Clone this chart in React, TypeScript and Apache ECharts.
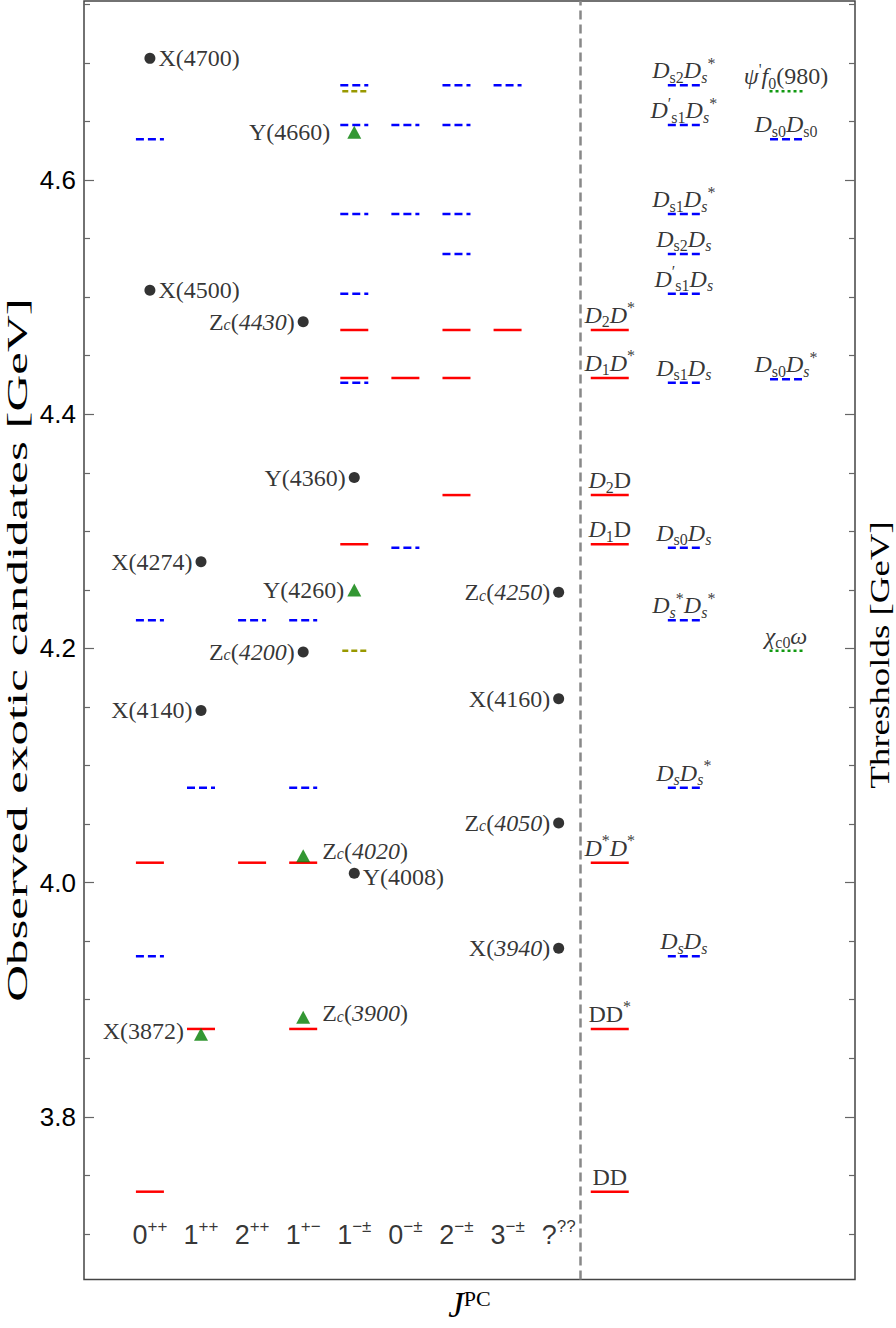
import React, { useEffect, useRef } from "react";
import * as echarts from "echarts";

const SERIF = '"Liberation Serif", "Times New Roman", serif';
const SANS = '"Liberation Sans", Arial, sans-serif';

// J^PC categories
const jpcBase = ["0", "1", "2", "1", "1", "0", "2", "3", "?"];
const jpcSup = ["++", "++", "++", "+−", "−±", "−±", "−±", "−±", "??"];

// Thresholds [GeV]
const thrLabels = [
  "{r|DD}",
  "{r|DD}{sup|*}",
  "{i|D}{sup|*}{i|D}{sup|*}",
  "{i|D}{sub|1}{r|D}",
  "{i|D}{sub|2}{r|D}",
  "{i|D}{sub|1}{i|D}{sup|*}",
  "{i|D}{sub|2}{i|D}{sup|*}",
  "{i|D}{isub|s}{i|D}{isub|s}",
  "{i|D}{isub|s}{i|D}{isub|s}{sup|*}",
  "{i|D}{isub|s}{sup|*}{i|D}{isub|s}{sup|*}",
  "{i|D}{sub|s0}{i|D}{isub|s}",
  "{i|D}{sub|s1}{i|D}{isub|s}",
  "{i|D}{sup|′}{sub|s1}{i|D}{isub|s}",
  "{i|D}{sub|s2}{i|D}{isub|s}",
  "{i|D}{sub|s1}{i|D}{isub|s}{sup|*}",
  "{i|D}{sup|′}{sub|s1}{i|D}{isub|s}{sup|*}",
  "{i|D}{sub|s2}{i|D}{isub|s}{sup|*}",
  "{i|D}{sub|s0}{i|D}{sub|s0}",
  "{i|D}{sub|s0}{i|D}{isub|s}{sup|*}",
  "{i|ψ}{sup|'}{i|f}{sub|0}{r|(980)}",
  "{i|χ}{sub|c0}{i|ω}",
];
const thrMass = [
  3.736, 3.875, 4.017, 4.289, 4.331, 4.431, 4.472,
  3.937, 4.081, 4.224, 4.286, 4.427, 4.503, 4.537, 4.571, 4.647, 4.681,
  4.635, 4.43, 4.676, 4.198,
];
// D = open-charm (red), Ds = charm-strange (blue), X = charmonium+light (green/olive)
const thrKind = [
  "D", "D", "D", "D", "D", "D", "D",
  "Ds", "Ds", "Ds", "Ds", "Ds", "Ds", "Ds", "Ds", "Ds", "Ds",
  "Ds", "Ds", "X", "X",
];
const thrColumn = [0, 0, 0, 0, 0, 0, 0, 1, 1, 1, 1, 1, 1, 1, 1, 1, 1, 2, 2, 2, 2];
const thrJpc = [
  [0], [1, 3], [0, 2, 3], [4], [6], [4, 5, 6], [4, 6, 7],
  [0], [1, 3], [0, 2, 3], [5], [4], [4], [6], [4, 5, 6], [4, 5, 6], [4, 6, 7],
  [0], [], [4], [4],
];
// x positions of the three threshold columns (in J^PC slot units)
const thresholdColumnX = [9.0, 10.45, 12.45];
const separatorX = 8.42;
const categoryLabelY = 3.699;

// Observed states: circles
const circleLabels = [
  "{p|X(4700)}",
  "{p|X(4500)}",
  "{p|Z}{ps|c}{p|(}{pi|4430}{p|)}",
  "{p|Y(4360)}",
  "{p|X(4274)}",
  "{p|Z}{ps|c}{p|(}{pi|4200}{p|)}",
  "{p|X(4140)}",
  "{p|Y(4008)}",
  "{p|Z}{ps|c}{p|(}{pi|4250}{p|)}",
  "{p|X(4160)}",
  "{p|Z}{ps|c}{p|(}{pi|4050}{p|)}",
  "{p|X(}{pi|3940}{p|)}",
];
const circleJpc = [0, 0, 3, 4, 1, 3, 1, 4, 8, 8, 8, 8];
const circleMass = [4.704, 4.506, 4.479, 4.346, 4.274, 4.197, 4.147, 4.008, 4.248, 4.157, 4.051, 3.944];
const circleSide = ["right", "right", "left", "left", "left", "left", "left", "right", "left", "left", "left", "left"];
const circleLabelShift = [0, 0, 0, 0, 0, 0, 0, 4, 0, 0, 0, 0];

// Observed states: triangles
const triLabels = [
  "{p|Y(4660)}",
  "{p|Y(4260)}",
  "{p|Z}{ps|c}{p|(}{pi|4020}{p|)}",
  "{p|Z}{ps|c}{p|(}{pi|3900}{p|)}",
  "{p|X(3872)}",
];
const triJpc = [4, 4, 3, 3, 1];
const triMass = [4.641, 4.25, 4.023, 3.885, 3.8705];
const triSide = ["left", "left", "right", "right", "left"];
const triDistance = [17, 3, 12, 12, 10];
const triLabelLift = [0, 0, -5, -4, -3];

const majorTicks = [3.8, 4.0, 4.2, 4.4, 4.6];
const minorTicks = [3.7, 3.75, 3.85, 3.9, 3.95, 4.05, 4.1, 4.15, 4.25, 4.3, 4.35, 4.45, 4.5, 4.55, 4.65, 4.7, 4.75];

const Y_MIN = 3.661;
const Y_MAX = 4.753;

const segRender = (halfPx: number, color: string, width: number, dash: number[] | null) =>
  (params: any, api: any) => {
    const c = api.coord([api.value(0), api.value(1)]);
    return {
      type: "line",
      silent: true,
      shape: { x1: c[0] - halfPx, y1: c[1], x2: c[0] + halfPx, y2: c[1] },
      style: { stroke: color, lineWidth: width, lineDash: dash || undefined, fill: null },
    };
  };

export default function App() {
  const ref = useRef<HTMLDivElement>(null);
  useEffect(() => {
    if (!ref.current) return;
    const chart = echarts.init(ref.current, null, { renderer: "svg" });

    const colSeg: Record<string, number[][]> = { D: [], Ds: [], X: [] };
    const thrSeg: Record<string, number[][]> = { D: [], Ds: [], X: [] };
    thrMass.forEach((m, k) => {
      thrJpc[k].forEach((j) => colSeg[thrKind[k]].push([j, m]));
      thrSeg[thrKind[k]].push([thresholdColumnX[thrColumn[k]], m]);
    });

    const thrRich = {
      r: { fontFamily: SERIF, fontSize: 24, lineHeight: 30, color: "#000" },
      i: { fontFamily: SERIF, fontSize: 24, fontStyle: "italic", lineHeight: 30, color: "#000" },
      sub: { fontFamily: SERIF, fontSize: 16, lineHeight: 16, verticalAlign: "bottom", color: "#000" },
      isub: { fontFamily: SERIF, fontSize: 16, fontStyle: "italic", lineHeight: 16, verticalAlign: "bottom", color: "#000" },
      sup: { fontFamily: SERIF, fontSize: 16, lineHeight: 16, verticalAlign: "top", color: "#000" },
    };
    const pRich = {
      p: { fontFamily: SERIF, fontSize: 24, lineHeight: 22, color: "#000" },
      pi: { fontFamily: SERIF, fontSize: 24, fontStyle: "italic", lineHeight: 22, color: "#000" },
      ps: { fontFamily: SERIF, fontSize: 16, fontStyle: "italic", lineHeight: 12, verticalAlign: "bottom", color: "#000" },
    };
    const catRich = {
      b: { fontFamily: SANS, fontSize: 27, lineHeight: 34, color: "#000" },
      s: { fontFamily: SANS, fontSize: 17, lineHeight: 16, verticalAlign: "top", color: "#000" },
    };

    const yBase = {
      type: "value",
      min: Y_MIN,
      max: Y_MAX,
      splitLine: { show: false },
      axisLine: { show: false },
      axisLabel: { show: false },
    };
    const tickAxis = (position: string, values: number[], length: number) => ({
      ...yBase,
      position,
      axisTick: { show: true, inside: true, length, customValues: values, lineStyle: { color: "#666", width: 1.2 } },
    });

    chart.setOption({
      animation: false,
      backgroundColor: "#fff",
      grid: { left: 84, right: 41, top: 1, bottom: 42, show: true, borderColor: "#444", borderWidth: 1.5, backgroundColor: "transparent" },
      xAxis: {
        type: "value",
        min: -1.29,
        max: 13.8,
        axisLine: { show: false },
        axisTick: { show: false },
        axisLabel: { show: false },
        splitLine: { show: false },
        name: "{j|J}{s|PC}",
        nameLocation: "middle",
        nameGap: 8,
        nameTextStyle: {
          rich: {
            j: { fontFamily: SERIF, fontSize: 35, fontStyle: "italic", lineHeight: 36, color: "#000" },
            s: { fontFamily: SERIF, fontSize: 22, lineHeight: 22, verticalAlign: "top", color: "#000" },
          },
        },
      },
      yAxis: [
        {
          ...yBase,
          position: "left",
          axisTick: { show: false },
          axisLabel: {
            show: true, customValues: majorTicks, margin: 8, fontSize: 26, fontFamily: SANS, color: "#000",
            formatter: (v: number) => v.toFixed(1),
          },
        },
        tickAxis("left", majorTicks, 10),
        tickAxis("left", minorTicks, 6),
        tickAxis("right", majorTicks, 10),
        tickAxis("right", minorTicks, 6),
      ],
      graphic: [
        {
          type: "text",
          x: 17,
          y: 650,
          rotation: Math.PI / 2,
          scaleX: 1.7,
          style: {
            text: "Observed exotic candidates [GeV]",
            font: `30px ${SERIF}`,
            fill: "#000",
            textAlign: "center",
            textVerticalAlign: "middle",
            align: "center",
            verticalAlign: "middle",
          },
        },
        {
          type: "text",
          x: 880,
          y: 655,
          rotation: Math.PI / 2,
          scaleX: 1.32,
          style: {
            text: "Thresholds [GeV]",
            font: `28px ${SERIF}`,
            fill: "#000",
            textAlign: "center",
            textVerticalAlign: "middle",
            align: "center",
            verticalAlign: "middle",
          },
        },
      ],
      series: [
        { type: "custom", name: "colDs", coordinateSystem: "cartesian2d", z: 2, data: colSeg.Ds, encode: { x: 0, y: 1 }, renderItem: segRender(14, "#0000ff", 2.5, [8, 4]) },
        { type: "custom", name: "colX", coordinateSystem: "cartesian2d", z: 2, data: colSeg.X, encode: { x: 0, y: 1 }, renderItem: segRender(12, "#999900", 2.5, [6, 3]) },
        { type: "custom", name: "colD", coordinateSystem: "cartesian2d", z: 3, data: colSeg.D, encode: { x: 0, y: 1 }, renderItem: segRender(14, "#ff0000", 2.5, null) },
        { type: "custom", name: "thrD", coordinateSystem: "cartesian2d", z: 3, data: thrSeg.D, encode: { x: 0, y: 1 }, renderItem: segRender(19, "#ff0000", 2.5, null) },
        { type: "custom", name: "thrDs", coordinateSystem: "cartesian2d", z: 3, data: thrSeg.Ds, encode: { x: 0, y: 1 }, renderItem: segRender(16, "#0000ff", 2.5, [8, 4]) },
        { type: "custom", name: "thrX", coordinateSystem: "cartesian2d", z: 3, data: thrSeg.X, encode: { x: 0, y: 1 }, renderItem: segRender(16.5, "#119911", 2.5, [3, 3]) },
        {
          type: "scatter",
          name: "thrLabels",
          z: 4,
          symbol: "circle",
          symbolSize: 0.1,
          itemStyle: { color: "rgba(0,0,0,0)" },
          silent: true,
          data: thrMass.map((m, k) => [thresholdColumnX[thrColumn[k]], m]),
          label: { show: true, position: "top", distance: 0, formatter: (p: any) => thrLabels[p.dataIndex], rich: thrRich },
          markLine: {
            silent: true,
            symbol: ["none", "none"],
            label: { show: false },
            lineStyle: { color: "#888", width: 2.5, type: [9, 5] },
            data: [{ xAxis: separatorX }],
          },
        },
        {
          type: "scatter",
          name: "categories",
          z: 4,
          symbolSize: 0.1,
          itemStyle: { color: "rgba(0,0,0,0)" },
          silent: true,
          data: jpcBase.map((_, i) => [i, categoryLabelY]),
          label: {
            show: true,
            position: "inside",
            formatter: (p: any) => `{b|${jpcBase[p.dataIndex]}}{s|${jpcSup[p.dataIndex]}}`,
            rich: catRich,
          },
        },
        {
          type: "scatter",
          name: "circles",
          z: 6,
          symbol: "circle",
          symbolSize: 11,
          itemStyle: { color: "#000" },
          data: circleMass.map((m, i) => ({
            value: [circleJpc[i], m],
            label: { position: circleSide[i], offset: [0, circleLabelShift[i]] },
          })),
          label: { show: true, distance: 3, formatter: (p: any) => circleLabels[p.dataIndex], rich: pRich },
        },
        {
          type: "scatter",
          name: "triangles",
          z: 6,
          symbol: "triangle",
          symbolSize: [14, 13],
          itemStyle: { color: "#007d00" },
          data: triMass.map((m, i) => ({
            value: [triJpc[i], m],
            label: { position: triSide[i], distance: triDistance[i], offset: [0, triLabelLift[i]] },
          })),
          label: { show: true, distance: 3, formatter: (p: any) => triLabels[p.dataIndex], rich: pRich },
        },
      ],
    });
    return () => chart.dispose();
  }, []);
  return <div ref={ref} style={{ position: "absolute", left: 0, top: 0, width: 896, height: 1328 }} />;
}
